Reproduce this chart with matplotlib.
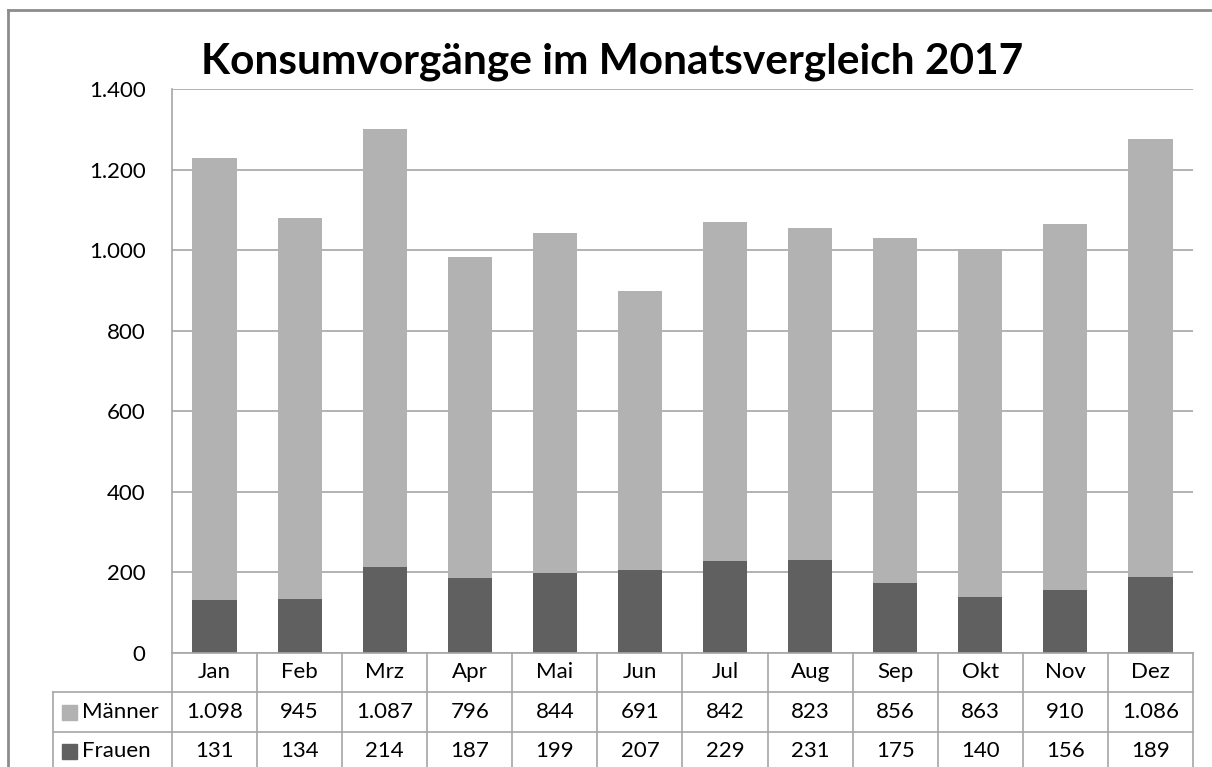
import matplotlib; matplotlib.use("Agg")
import matplotlib.pyplot as plt
from matplotlib.patches import Rectangle
from matplotlib.lines import Line2D
import numpy as np

plt.rcParams.update({"font.family": ["Lato", "DejaVu Sans"], "text.color": "#000000"})

months = ["Jan", "Feb", "Mrz", "Apr", "Mai", "Jun", "Jul", "Aug", "Sep", "Okt", "Nov", "Dez"]
maenner = [1098, 945, 1087, 796, 844, 691, 842, 823, 856, 863, 910, 1086]
frauen = [131, 134, 214, 187, 199, 207, 229, 231, 175, 140, 156, 189]
series_names = ["Männer", "Frauen"]
yticks = [0, 200, 400, 600, 800, 1000, 1200, 1400]

C_M = "#b2b2b2"; C_F = "#606060"; GRID = "#a6a6a6"; LINE = "#a6a6a6"
W, H = 1212, 767
FS = 16

def fx(px): return px / W
def fy(py): return 1 - py / H

def de(v):
    return f"{v:,}".replace(",", ".")

fig = plt.figure(figsize=(W / 100, H / 100), dpi=100)
fig.patch.set_facecolor("white")

def hline(y, x0, x1, c=LINE, lw=1.2):
    fig.add_artist(Line2D([fx(x0), fx(x1)], [fy(y), fy(y)], transform=fig.transFigure, color=c, lw=lw))
def vline(xp, y0, y1, c=LINE, lw=1.2):
    fig.add_artist(Line2D([fx(xp), fx(xp)], [fy(y0), fy(y1)], transform=fig.transFigure, color=c, lw=lw))

# outer chart border (only top and left visible in the crop)
hline(10, 8, 1220, c="#8c8c8c", lw=2)
vline(8, 10, 780, c="#8c8c8c", lw=2)

L, R, T, B = 172, 1193, 89, 653
ax = fig.add_axes([fx(L), fy(B), fx(R) - fx(L), fy(T) - fy(B)])
x = np.arange(len(months))
ax.bar(x, frauen, width=0.52, color=C_F, zorder=3)
ax.bar(x, maenner, width=0.52, bottom=frauen, color=C_M, zorder=3)
ax.set_xlim(-0.5, len(months) - 0.5)
ax.set_ylim(0, 1400)
ax.set_yticks(yticks)
ax.set_yticklabels([de(v) for v in yticks], fontsize=FS)
ax.tick_params(axis="y", length=0, pad=19)
ax.set_xticks([])
ax.grid(True, axis="y", color=GRID, lw=1.2)
ax.set_axisbelow(True)
for sp in ["top", "right", "bottom"]:
    ax.spines[sp].set_visible(False)
ax.spines["left"].set_color(LINE); ax.spines["left"].set_linewidth(1.2)

fig.text(0.505, fy(62), "Konsumvorgänge im Monatsvergleich 2017", ha="center", va="center",
         fontsize=30.5, fontweight="bold")

# data table
tl = 53
hline(653, L, R)
hline(692, tl, R)
hline(732, tl, R)
vline(tl, 692, 780)
colw = (R - L) / len(months)
for i in range(len(months) + 1):
    vline(L + i * colw, 653, 780)

for i, m in enumerate(months):
    cx = fx(L + (i + 0.5) * colw)
    fig.text(cx, fy(672), m, ha="center", va="center", fontsize=FS)
    fig.text(cx, fy(712), de(maenner[i]), ha="center", va="center", fontsize=FS)
    fig.text(cx, fy(751), de(frauen[i]), ha="center", va="center", fontsize=FS)

for name, col, yc in zip(series_names, [C_M, C_F], [712, 751]):
    fig.add_artist(Rectangle((fx(62), fy(yc + 8)), fx(15), fy(yc - 7) - fy(yc + 8),
                             transform=fig.transFigure, color=col))
    fig.text(fx(82), fy(yc), name, ha="left", va="center", fontsize=FS)

fig.savefig("out.png", dpi=100, facecolor="white")
